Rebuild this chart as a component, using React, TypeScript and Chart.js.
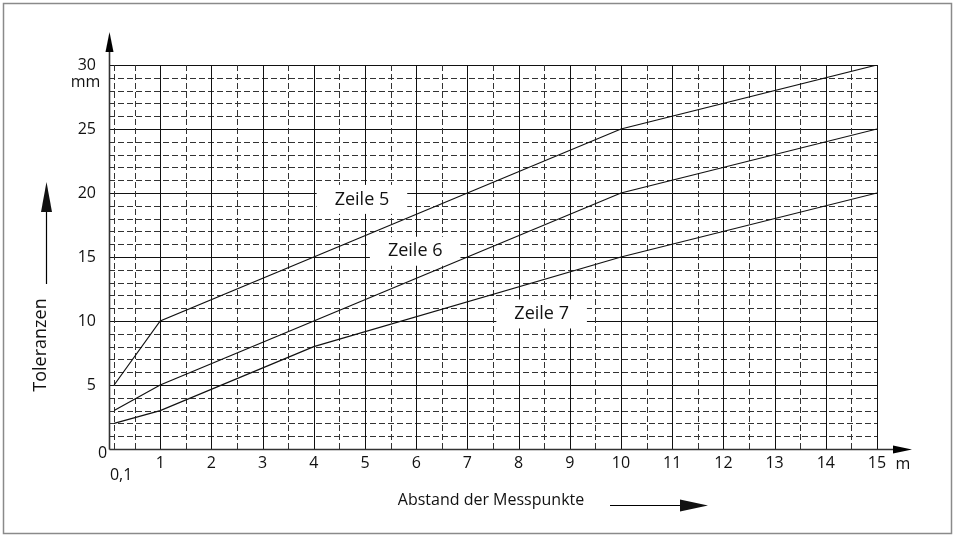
import React, { useEffect, useRef } from 'react';
import { Chart, registerables } from 'chart.js';

Chart.register(...registerables);

// ---- data ----
const distances = [0.1, 1, 4, 10, 15];
const zeile5 = [5, 10, 15, 25, 30];
const zeile6 = [3, 5, 10, 20, 25];
const zeile7 = [2, 3, 8, 15, 20];
const seriesNames = ['Zeile 5', 'Zeile 6', 'Zeile 7'];
const xTickValues = [1, 2, 3, 4, 5, 6, 7, 8, 9, 10, 11, 12, 13, 14, 15];
const yTickValues = [0, 5, 10, 15, 20, 25, 30];
const firstDistanceLabel = '0,1';
const xUnit = 'm';
const yUnit = 'mm';
const xTitle = 'Abstand der Messpunkte';
const yTitle = 'Toleranzen';

// label anchor positions (data coordinates) for the series names
const labelAnchors = [
  { x: 4.94, y: 19.5 },
  { x: 5.98, y: 15.45 },
  { x: 8.45, y: 10.55 },
];

const FONT = "'Open Sans', 'Noto Sans', sans-serif";
const INK = '#111';

function arrowHead(ctx: CanvasRenderingContext2D, tx: number, ty: number, dir: 'up' | 'right', len: number, half: number) {
  ctx.beginPath();
  if (dir === 'up') {
    ctx.moveTo(tx, ty);
    ctx.lineTo(tx - half, ty + len);
    ctx.lineTo(tx + half, ty + len);
  } else {
    ctx.moveTo(tx, ty);
    ctx.lineTo(tx - len, ty - half);
    ctx.lineTo(tx - len, ty + half);
  }
  ctx.closePath();
  ctx.fill();
}

const decorPlugin = {
  id: 'decor',
  beforeDatasetsDraw(chart: any) {
    const { ctx } = chart;
    const xs = chart.scales.x;
    const ys = chart.scales.y;
    const left = xs.getPixelForValue(0);
    const right = xs.getPixelForValue(15);
    const top = ys.getPixelForValue(30);
    const bottom = ys.getPixelForValue(0);
    ctx.save();
    // horizontal grid
    for (let v = 1; v <= 30; v++) {
      const py = Math.round(ys.getPixelForValue(v)) + 0.5;
      const major = v % 5 === 0;
      ctx.beginPath();
      ctx.setLineDash(major ? [] : [6, 3]);
      ctx.strokeStyle = major ? '#111' : '#333';
      ctx.lineWidth = 1;
      ctx.moveTo(left, py);
      ctx.lineTo(right, py);
      ctx.stroke();
    }
    // vertical grid
    const vx: number[] = [0.1];
    for (let v = 0.5; v <= 15; v += 0.5) vx.push(v);
    for (const v of vx) {
      const px = Math.round(xs.getPixelForValue(v)) + 0.5;
      const major = Math.abs(v - Math.round(v)) < 1e-6;
      ctx.beginPath();
      ctx.setLineDash(major ? [] : [6, 3]);
      ctx.strokeStyle = major ? '#111' : '#333';
      ctx.lineWidth = 1;
      ctx.moveTo(px, bottom);
      ctx.lineTo(px, top);
      ctx.stroke();
    }
    ctx.setLineDash([]);
    // series name labels on white boxes
    ctx.font = `18px ${FONT}`;
    ctx.textAlign = 'center';
    ctx.textBaseline = 'middle';
    seriesNames.forEach((name, i) => {
      const cx = xs.getPixelForValue(labelAnchors[i].x);
      const cy = ys.getPixelForValue(labelAnchors[i].y);
      const w = ctx.measureText(name).width + 36;
      const h = 29;
      ctx.fillStyle = '#fff';
      ctx.fillRect(cx - w / 2, cy - h / 2, w, h);
      ctx.fillStyle = INK;
      ctx.fillText(name, cx, cy);
    });
    ctx.restore();
  },
  afterDraw(chart: any) {
    const { ctx } = chart;
    const xs = chart.scales.x;
    const ys = chart.scales.y;
    const x0 = Math.round(xs.getPixelForValue(0)) + 0.5;
    const xEnd = xs.getPixelForValue(15);
    const y0 = Math.round(ys.getPixelForValue(0)) + 0.5;
    const yTop = ys.getPixelForValue(30);
    ctx.save();
    // axes
    ctx.strokeStyle = '#333';
    ctx.fillStyle = '#000';
    ctx.lineWidth = 1.6;
    ctx.beginPath();
    ctx.moveTo(x0, y0);
    ctx.lineTo(x0, yTop - 20);
    ctx.stroke();
    arrowHead(ctx, x0, yTop - 33, 'up', 20, 4);
    ctx.beginPath();
    ctx.moveTo(x0, y0);
    ctx.lineTo(xEnd + 20, y0);
    ctx.stroke();
    arrowHead(ctx, xEnd + 35, y0, 'right', 19, 4);

    // extra axis texts
    ctx.fillStyle = INK;
    ctx.font = `16px ${FONT}`;
    ctx.textAlign = 'center';
    ctx.textBaseline = 'middle';
    ctx.fillText(yUnit, x0 - 24, yTop + 17);
    ctx.fillText(xUnit, xEnd + 26, y0 + 15);
    ctx.fillText(firstDistanceLabel, xs.getPixelForValue(0.1) + 7, y0 + 26);
    ctx.fillText(String(yTickValues[0]), x0 - 7, y0 + 4);

    // x title + arrow
    ctx.font = `16px ${FONT}`;
    ctx.fillText(xTitle, 491, 500);
    ctx.strokeStyle = '#000';
    ctx.lineWidth = 1.2;
    ctx.beginPath();
    ctx.moveTo(610, 505.5);
    ctx.lineTo(684, 505.5);
    ctx.stroke();
    arrowHead(ctx, 708, 505.5, 'right', 28, 6);

    // y title + arrow
    ctx.font = `18px ${FONT}`;
    ctx.save();
    ctx.translate(41, 345);
    ctx.rotate(-Math.PI / 2);
    ctx.fillText(yTitle, 0, 0);
    ctx.restore();
    ctx.beginPath();
    ctx.moveTo(46.5, 284);
    ctx.lineTo(46.5, 208);
    ctx.stroke();
    arrowHead(ctx, 46.5, 182, 'up', 30, 5.5);

    // outer frame
    ctx.strokeStyle = '#8a8a8a';
    ctx.lineWidth = 1.5;
    ctx.strokeRect(3.5, 3.5, 948, 530);
    ctx.restore();
  },
};

export default function App() {
  const ref = useRef<HTMLCanvasElement | null>(null);
  useEffect(() => {
    const canvas = ref.current;
    if (!canvas) return;
    const mk = (vals: number[], label: string) => ({
      label,
      data: distances.map((x, i) => ({ x, y: vals[i] })),
      borderColor: INK,
      backgroundColor: INK,
      borderWidth: 1.2,
      pointRadius: 0,
      fill: false,
      tension: 0,
    });
    const chart = new Chart(canvas, {
      type: 'line',
      data: {
        datasets: [mk(zeile5, seriesNames[0]), mk(zeile6, seriesNames[1]), mk(zeile7, seriesNames[2])],
      },
      options: {
        responsive: false,
        animation: false,
        layout: { padding: { left: 0, top: 65, right: 78, bottom: 0 } },
        plugins: { legend: { display: false }, tooltip: { enabled: false } },
        scales: {
          x: {
            type: 'linear',
            min: 0,
            max: 15,
            grid: { display: false, drawTicks: false },
            border: { display: false },
            afterBuildTicks: (s: any) => {
              s.ticks = xTickValues.map((v) => ({ value: v }));
            },
            afterFit: (s: any) => {
              s.height = 86;
            },
            ticks: {
              font: { family: FONT, size: 16 },
              color: INK,
              padding: 5,
              maxRotation: 0,
              autoSkip: false,
              callback: (v: any) => String(v),
            },
          },
          y: {
            type: 'linear',
            min: 0,
            max: 30,
            grid: { display: false, drawTicks: false },
            border: { display: false },
            afterBuildTicks: (s: any) => {
              s.ticks = yTickValues.map((v) => ({ value: v }));
            },
            afterFit: (s: any) => {
              s.width = 109;
            },
            ticks: {
              font: { family: FONT, size: 16 },
              color: INK,
              padding: 13,
              autoSkip: false,
              callback: (v: any) => (v === yTickValues[0] ? '' : String(v)),
            },
          },
        },
      } as any,
      plugins: [decorPlugin],
    });
    return () => chart.destroy();
  }, []);
  return (
    <div style={{ position: 'fixed', left: 0, top: 0, width: 955, height: 535, background: '#fff' }}>
      <canvas ref={ref} width={955} height={535} style={{ display: 'block' }} />
    </div>
  );
}
